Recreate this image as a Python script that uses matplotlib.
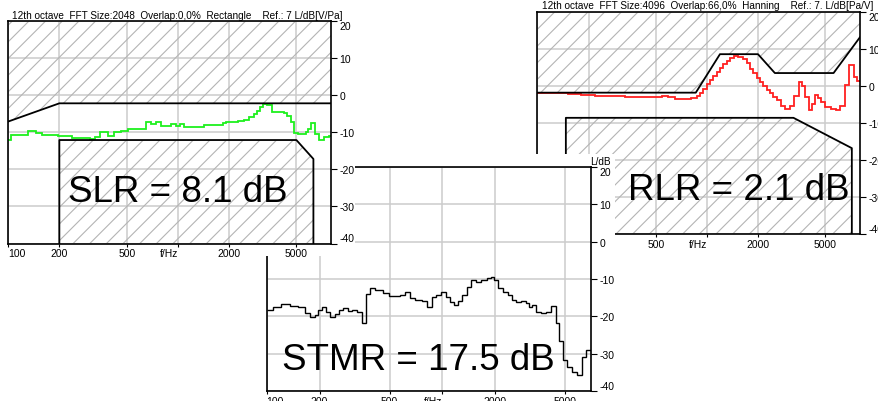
import matplotlib
matplotlib.use('Agg')
import matplotlib.pyplot as plt
from matplotlib.patches import Rectangle
from matplotlib.ticker import NullLocator

plt.rcParams['font.family'] = ['Liberation Sans', 'DejaVu Sans']
plt.rcParams['hatch.linewidth'] = 0.8

# --- SLR (sending) ---
slr_edges = [100, 103.7, 130, 145, 157, 197, 236, 302, 323, 346, 387, 421, 463, 511, 652, 698, 747, 792, 913, 978,
             1036, 1094, 1431, 1838, 1922, 2250, 2463, 2636, 2796, 2924, 3058, 3199, 3376, 3612, 4232, 4388, 4640,
             4855, 5080, 5692, 5873, 6089, 6432, 6822, 7304, 7824, 8000]
slr_db = [-12, -10.7, -9.7, -10.2, -10.7, -11.1, -11.6, -11.8, -11.3, -10.0, -11.1, -10.0, -9.7, -9.1, -7.3, -7.8,
          -7.3, -8.2, -7.9, -8.2, -7.9, -8.7, -8.0, -7.4, -7.3, -7.1, -6.6, -6.0, -5.1, -4.2, -3.3, -2.5, -2.7,
          -4.5, -4.8, -5.5, -7.3, -10.3, -10.6, -10.0, -9.1, -7.6, -10.5, -12.2, -11.3, -10.9]
slr_up_f = [100, 200, 8000]
slr_up_db = [-7.1, -2.2, -2.2]
slr_lo_f = [200, 200, 5000, 6300, 6300]
slr_lo_db = [-40, -12.1, -12.1, -17.2, -40]

# --- RLR (receiving) ---
rlr_edges = [100, 151, 181, 217, 273, 327, 540, 590, 646, 810, 871, 912, 952, 996, 1042, 1090, 1141, 1193, 1249,
             1307, 1367, 1451, 1527, 1640, 1716, 1795, 1879, 1966, 2057, 2152, 2252, 2356, 2465, 2579, 2735, 2885,
             3084, 3272, 3476, 3652, 3799, 3975, 4159, 4352, 4515, 4724, 4943, 5425, 5784, 6113, 6515, 6856, 7346,
             7731, 8000]
rlr_db = [-1.9, -2.2, -2.5, -2.7, -2.8, -3.1, -2.8, -3.1, -3.6, -3.3, -2.7, -1.9, -0.9, 0.5, 1.7, 2.8, 3.8, 5.0,
          5.9, 6.8, 7.5, 8.1, 7.9, 7.3, 6.1, 4.7, 3.4, 2.2, 1.1, -0.1, -1.0, -1.9, -3.0, -3.9, -5.3, -6.2, -5.5,
          -2.8, 1.1, -0.1, -3.0, -6.5, -4.8, -2.5, -3.2, -4.4, -5.7, -6.2, -6.6, -5.3, 0.2, 5.6, 2.3, 1.4]
rlr_up_f = [100, 859, 1193, 2000, 2516, 5585, 8000]
rlr_up_db = [-1.8, -1.8, 8.6, 8.6, 3.5, 3.5, 13.2]
rlr_lo_f = [147, 147, 3240, 7160, 7160]
rlr_lo_db = [-40, -8.6, -8.6, -16.8, -40]

# --- STMR (sidetone) ---
stmr_edges = [100, 108.6, 121.2, 135.1, 150.6, 164.5, 175.6, 187.6, 196.2, 205.2, 218.4, 228.1, 245.1, 259.4,
              273.1, 290.9, 307.3, 326.4, 347.0, 365.9, 389.5, 412.4, 459.4, 496.4, 570.0, 608.8, 649.8, 693.6,
              766.1, 814.8, 873.9, 921.6, 984.9, 1043, 1098, 1156, 1223, 1294, 1374, 1454, 1552, 1656, 1782, 1885,
              1965, 2077, 2221, 2350, 2486, 2619, 2796, 2985, 3089, 3251, 3421, 3637, 3870, 4133, 4403, 4617, 4869,
              5134, 5467, 5840, 6240, 6536, 6848, 7000]
stmr_db = [-18.3, -17.4, -16.8, -17.1, -17.4, -19.2, -20.1, -19.7, -18.3, -17.6, -18.8, -20.1, -19.4, -18.3,
           -17.9, -18.5, -18.2, -18.8, -21.7, -14.0, -12.5, -13.0, -13.7, -14.6, -14.3, -13.4, -15.2, -15.7, -15.8,
           -17.4, -14.8, -14.3, -13.4, -14.9, -16.1, -17.0, -15.8, -14.3, -12.2, -10.3, -10.7, -10.3, -9.8, -9.4,
           -10.4, -12.5, -13.4, -14.3, -15.5, -16.1, -15.8, -16.5, -17.6, -17.0, -18.8, -19.1, -18.8, -17.3, -21.9,
           -26.6, -31.8, -33.6, -34.9, -35.6, -30.9, -28.9, -28.9]

xt = [100, 200, 500, 1000, 2000, 5000]
xl = ['100', '200', '500', 'f/Hz', '2000', '5000']
yt = [20, 10, 0, -10, -20, -30, -40]

W, H = 879, 402
fig = plt.figure(figsize=(W/100, H/100), dpi=100)

def px_axes(x0, y0, x1, y1):
    # pixel box (top-left origin) -> figure fraction
    return [x0/W, 1-y1/H, (x1-x0)/W, (y1-y0)/H]

def style(ax, xmax):
    ax.set_xscale('log')
    ax.set_xlim(100, xmax)
    ax.set_ylim(-40, 20)
    ax.set_xticks(xt)
    ax.set_xticklabels(xl)
    ax.xaxis.set_minor_locator(NullLocator())
    ax.set_yticks(yt)
    ax.set_yticklabels([str(v) for v in yt])
    ax.yaxis.tick_right()
    ax.grid(True, color='#cccccc', linewidth=1.1)
    ax.set_axisbelow(True)
    ax.tick_params(axis='y', direction='out', length=4, width=0.8, pad=2, labelsize=7.5)
    ax.tick_params(axis='x', direction='out', length=2, width=0.8, pad=1.5, labelsize=7.5)
    labs = ax.get_xticklabels()
    labs[0].set_ha('left')
    labs[3].set_ha('right')
    ylabs = ax.get_yticklabels()
    ylabs[0].set_va('top')
    ylabs[-1].set_va('bottom')
    for s in ax.spines.values():
        s.set_color('black')
        s.set_linewidth(1.2)

# RLR panel (bottom layer)
ax2 = fig.add_axes(px_axes(537.5, 13, 860, 235))
ax2.set_zorder(1)
style(ax2, 8000)
ax2.fill_between(rlr_up_f, rlr_up_db, 20, facecolor='none', edgecolor='#b4b4b4', hatch='//', linewidth=0)
ax2.fill_between(rlr_lo_f[1:-1], rlr_lo_db[1:-1], -40, facecolor='none', edgecolor='#b4b4b4', hatch='//', linewidth=0)
ax2.plot(rlr_up_f, rlr_up_db, color='black', linewidth=1.3)
ax2.plot(rlr_lo_f, rlr_lo_db, color='black', linewidth=1.3)
ax2.stairs(rlr_db, rlr_edges, baseline=None, color='#ff2020', linewidth=1.3)
ax2.text(0.013, 1.016, '12th octave  FFT Size:4096  Overlap:66,0%  Hanning    Ref.: 7. L/dB[Pa/V]',
         transform=ax2.transAxes, ha='left', va='baseline', fontsize=7.2)
ax2.text(0.623, 0.158, 'RLR = 2.1 dB', transform=ax2.transAxes, ha='center', va='baseline', fontsize=26.5)

# white backing of the STMR panel
fig.add_artist(Rectangle((255/W, 0), (615-255)/W, (H-155)/H, transform=fig.transFigure,
                         facecolor='white', edgecolor='none', zorder=2))

# STMR panel
ax3 = fig.add_axes(px_axes(266.7, 168, 591, 392))
ax3.set_zorder(3)
style(ax3, 7000)
ax3.stairs(stmr_db, stmr_edges, baseline=None, color='black', linewidth=1.0)
ax3.text(0.997, 1.006, 'L/dB', transform=ax3.transAxes, ha='left', va='bottom', fontsize=7.2)
ax3.text(0.468, 0.098, 'STMR = 17.5 dB', transform=ax3.transAxes, ha='center', va='baseline', fontsize=26.5)

# white backing of the SLR panel
fig.add_artist(Rectangle((0, 1-257/H), 355/W, 257/H, transform=fig.transFigure,
                         facecolor='white', edgecolor='none', zorder=4))

# SLR panel (top layer)
ax1 = fig.add_axes(px_axes(8.3, 22, 331, 244.5))
ax1.set_zorder(5)
style(ax1, 8000)
ax1.fill_between(slr_up_f, slr_up_db, 20, facecolor='none', edgecolor='#b4b4b4', hatch='//', linewidth=0)
ax1.fill_between(slr_lo_f[1:-1], slr_lo_db[1:-1], -40, facecolor='none', edgecolor='#b4b4b4', hatch='//', linewidth=0)
ax1.plot(slr_up_f, slr_up_db, color='black', linewidth=1.3)
ax1.plot(slr_lo_f, slr_lo_db, color='black', linewidth=1.3)
ax1.stairs(slr_db, slr_edges, baseline=None, color='#1ef01e', linewidth=1.3)
ax1.text(0.0115, 1.0135, '12th octave  FFT Size:2048  Overlap:0,0%  Rectangle    Ref.: 7 L/dB[V/Pa]',
         transform=ax1.transAxes, ha='left', va='baseline', fontsize=7.2)
ax1.text(0.524, 0.191, 'SLR = 8.1 dB', transform=ax1.transAxes, ha='center', va='baseline', fontsize=26.5)

fig.savefig('out.png', dpi=100)
